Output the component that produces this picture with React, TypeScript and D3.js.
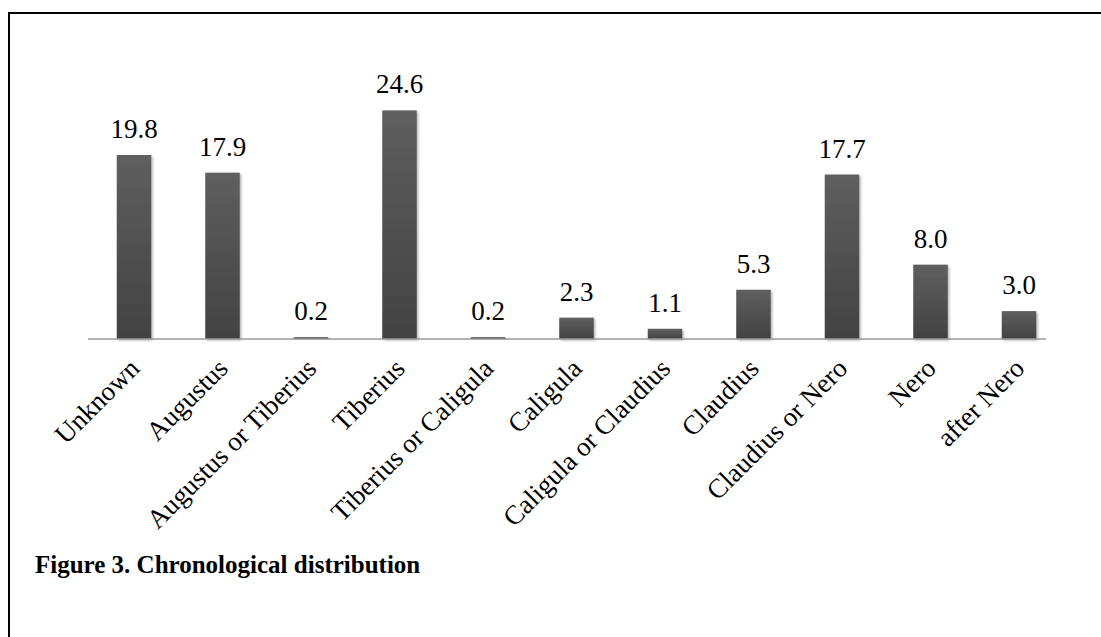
import React from "react";
import * as d3 from "d3";

const categories = [
  "Unknown",
  "Augustus",
  "Augustus or Tiberius",
  "Tiberius",
  "Tiberius or Caligula",
  "Caligula",
  "Caligula or Claudius",
  "Claudius",
  "Claudius or Nero",
  "Nero",
  "after Nero",
];
const values = [19.8, 17.9, 0.2, 24.6, 0.2, 2.3, 1.1, 5.3, 17.7, 8.0, 3.0];
const title = "Figure 3. Chronological distribution";

const W = 1101;
const H = 637;
const axisY = 339;
const FONT = "'Liberation Serif', 'Times New Roman', serif";

export default function App() {
  const x = d3
    .scaleBand<string>()
    .domain(categories)
    .range([89.75, 1063.25])
    .paddingInner(0.61)
    .paddingOuter(0.305);
  const y = d3.scaleLinear().domain([0, 24.6]).range([axisY, 110.4]);

  return (
    <div style={{ position: "fixed", left: 0, top: 0 }}>
      <svg width={W} height={H} style={{ display: "block", background: "#fff" }}>
        <defs>
          <linearGradient id="barGrad" x1="0" y1="0" x2="0" y2="1">
            <stop offset="0" stopColor="#5f5f5f" />
            <stop offset="1" stopColor="#424242" />
          </linearGradient>
          <filter id="shadow" x="-20%" y="-20%" width="140%" height="140%">
            <feDropShadow dx="1.5" dy="1.5" stdDeviation="1.2" floodColor="#000" floodOpacity="0.3" />
          </filter>
        </defs>
        {/* frame */}
        <line x1={8} x2={W} y1={13} y2={13} stroke="#000" strokeWidth={2} />
        <line x1={9} x2={9} y1={12} y2={H} stroke="#000" strokeWidth={2} />

        {/* bars */}
        {categories.map((c, i) => {
          const bx = x(c)!;
          const bw = x.bandwidth();
          const top = y(values[i]);
          const h = Math.max(axisY - top, 1.5);
          return (
            <rect
              key={c}
              x={bx}
              y={axisY - h}
              width={bw}
              height={h}
              fill="url(#barGrad)"
              filter="url(#shadow)"
            />
          );
        })}

        {/* axis line */}
        <line x1={88} x2={1046} y1={axisY} y2={axisY} stroke="#9a9a9a" strokeWidth={1.5} />

        {/* value labels */}
        {categories.map((c, i) => (
          <text
            key={"v" + c}
            x={x(c)! + x.bandwidth() / 2}
            y={y(values[i]) - 17}
            textAnchor="middle"
            fontFamily={FONT}
            fontSize={27}
            fill="#000"
          >
            {values[i].toFixed(1)}
          </text>
        ))}

        {/* category labels */}
        {categories.map((c) => {
          const cx = x(c)! + x.bandwidth() / 2 + 7;
          const cy = axisY + 31;
          return (
            <text
              key={"c" + c}
              transform={`translate(${cx},${cy}) rotate(-45)`}
              textAnchor="end"
              fontFamily={FONT}
              fontSize={27}
              fill="#000"
            >
              {c}
            </text>
          );
        })}

        {/* title */}
        <text x={35} y={573} fontFamily={FONT} fontSize={25} fontWeight="bold" fill="#000">
          {title}
        </text>
      </svg>
    </div>
  );
}
